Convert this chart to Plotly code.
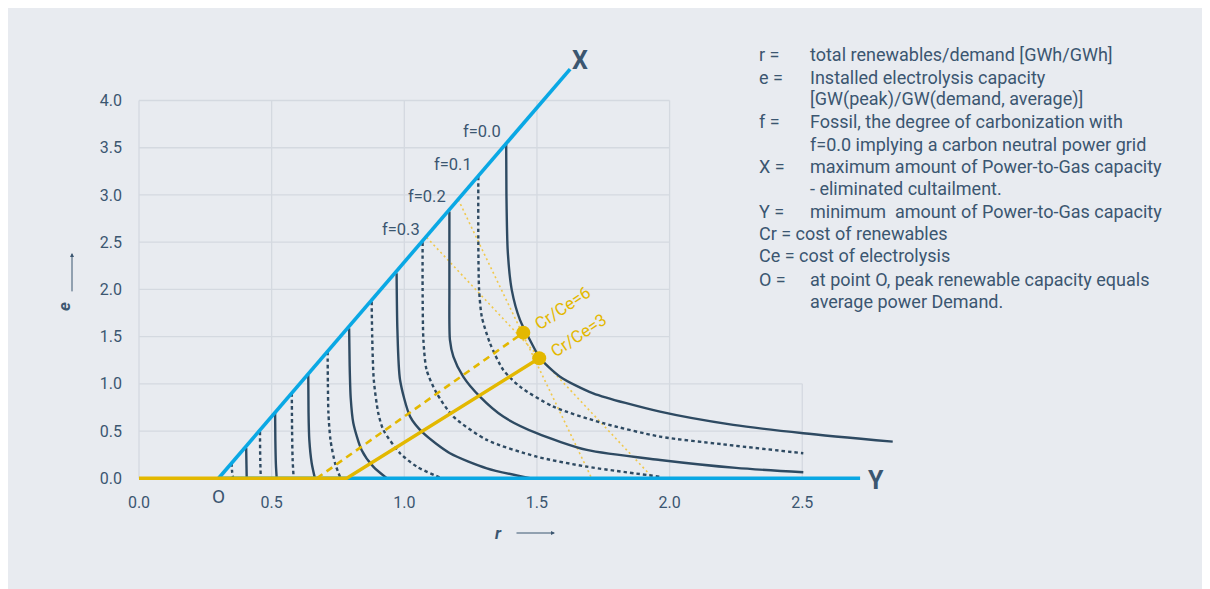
import plotly.graph_objects as go

# ---------------- data ----------------
x_tick_vals = [0.0, 0.5, 1.0, 1.5, 2.0, 2.5]
x_tick_text = ["0.0", "0.5", "1.0", "1.5", "2.0", "2.5"]
y_tick_vals = [0.0, 0.5, 1.0, 1.5, 2.0, 2.5, 3.0, 3.5, 4.0]
y_tick_text = ["0.0", "0.5", "1.0", "1.5", "2.0", "2.5", "3.0", "3.5", "4.0"]

# iso-fossil curves (f = 0.0 ... 1.3), r and e values
f00_r = [1.384, 1.385, 1.390, 1.405, 1.436, 1.480, 1.512, 1.587, 1.712, 1.964, 2.240, 2.504, 2.841]
f00_e = [3.540, 3.000, 2.400, 1.995, 1.677, 1.430, 1.271, 1.076, 0.900, 0.705, 0.565, 0.477, 0.388]
f01_r = [1.279, 1.279, 1.282, 1.292, 1.323, 1.373, 1.436, 1.562, 1.750, 1.964, 2.200, 2.504]
f01_e = [3.195, 2.500, 1.995, 1.712, 1.430, 1.147, 0.970, 0.758, 0.583, 0.441, 0.360, 0.265]
f02_r = [1.170, 1.170, 1.172, 1.185, 1.222, 1.285, 1.373, 1.499, 1.688, 1.964, 2.250, 2.504]
f02_e = [2.824, 2.000, 1.465, 1.288, 1.076, 0.864, 0.653, 0.477, 0.300, 0.194, 0.110, 0.064]
f03_r = [1.069, 1.069, 1.072, 1.084, 1.122, 1.185, 1.311, 1.499, 1.688, 1.964]
f03_e = [2.500, 2.000, 1.465, 1.147, 0.900, 0.653, 0.406, 0.229, 0.123, 0.017]
f04_r = [0.971, 0.974, 0.984, 1.022, 1.072, 1.172, 1.311, 1.474]
f04_e = [2.172, 1.571, 1.041, 0.653, 0.477, 0.265, 0.106, 0.000]
f05_r = [0.877, 0.879, 0.885, 0.902, 0.921, 0.984, 1.047, 1.141]
f05_e = [1.871, 1.500, 1.041, 0.689, 0.512, 0.265, 0.123, 0.000]
f06_r = [0.792, 0.794, 0.798, 0.808, 0.839, 0.883, 0.934]
f06_e = [1.589, 1.200, 0.850, 0.583, 0.300, 0.123, 0.000]
f07_r = [0.711, 0.712, 0.714, 0.722, 0.740, 0.760]
f07_e = [1.341, 1.000, 0.689, 0.400, 0.150, 0.000]
f08_r = [0.638, 0.639, 0.642, 0.651, 0.663]
f08_e = [1.094, 0.700, 0.406, 0.159, 0.000]
f09_r = [0.576, 0.577, 0.579, 0.583]
f09_e = [0.904, 0.500, 0.200, 0.000]
f10_r = [0.513, 0.514, 0.516, 0.519]
f10_e = [0.705, 0.400, 0.150, 0.000]
f11_r = [0.456, 0.457, 0.459]
f11_e = [0.494, 0.200, 0.000]
f12_r = [0.404, 0.405, 0.406]
f12_e = [0.321, 0.150, 0.000]
f13_r = [0.349, 0.351, 0.355]
f13_e = [0.162, 0.070, 0.000]

# boundary lines
x_line_r = [0.30, 1.625]
x_line_e = [0.00, 4.333]
y_line_r = [0.30, 2.718]
y_line_e = [0.00, 0.000]

# cost-ratio paths and optimum points
cr3_r = [0.0, 0.783, 1.5085]
cr3_e = [0.0, 0.000, 1.271]
cr6_r = [0.670, 1.4486]
cr6_e = [0.000, 1.542]
opt_r = [1.4486, 1.5085]
opt_e = [1.542, 1.271]

# thin cost lines
iso_a_r = [1.0845, 1.9385]
iso_a_e = [2.550, 0.000]
iso_b_r = [1.2035, 1.7063]
iso_b_e = [2.950, 0.000]

f_labels = ["f=0.0", "f=0.1", "f=0.2", "f=0.3"]
f_label_r = [1.292, 1.185, 1.084, 0.988]
f_label_e = [3.672, 3.319, 2.983, 2.630]

legend_lines = [
    ("r =", "total renewables/demand [GWh/GWh]"),
    ("e =", "Installed electrolysis capacity"),
    ("", "[GW(peak)/GW(demand, average)]"),
    ("f =", "Fossil, the degree of carbonization with"),
    ("", "f=0.0 implying a carbon neutral power grid"),
    ("X =", "maximum amount of Power-to-Gas capacity"),
    ("", "- eliminated cultailment."),
    ("Y =", "minimum  amount of Power-to-Gas capacity"),
    ("Cr = cost of renewables", ""),
    ("Ce = cost of electrolysis", ""),
    ("O =", "at point O, peak renewable capacity equals"),
    ("", "average power Demand."),
]

# ---------------- styling ----------------
OFF = 8                       # page body margin
W, H = 1194, 581
PX_PER_R = 265.3
PX_PER_E = 94.4
X0_PAGE = 139                 # page x of r = 0
E0_PAGE = 478.3               # page y of e = 0
ML, MR = 125, 20
y_min = -0.05
MB = H - (E0_PAGE - OFF + (-y_min) * PX_PER_E)
MT = 50.2
PW = W - ML - MR
PH = H - MT - MB
x_min = -((X0_PAGE - OFF) - ML) / PX_PER_R
x_max = x_min + PW / PX_PER_R
y_max = y_min + PH / PX_PER_E

def pxx(px):
    return (px - OFF - ML) / PW

def pxy(py):
    return (H - MB - (py - OFF)) / PH

NAVY = "#2E4A62"
BLUE = "#0AA8E4"
GOLD = "#E3B800"
LIGHT_GOLD = "#F0C84C"
TEXT = "#3B5670"
GRID = "#D4D9E0"
BG = "#E8EBF0"
FONT = "Roboto"

fig = go.Figure()

# thin cost lines
for rr, ee in [(iso_a_r, iso_a_e), (iso_b_r, iso_b_e)]:
    fig.add_trace(go.Scatter(x=rr, y=ee, mode="lines",
                             line=dict(color=LIGHT_GOLD, width=1.6, dash="2px,3px"),
                             hoverinfo="skip", showlegend=False))

curves = [
    (f00_r, f00_e, "solid"), (f01_r, f01_e, "dot"), (f02_r, f02_e, "solid"),
    (f03_r, f03_e, "dot"), (f04_r, f04_e, "solid"), (f05_r, f05_e, "dot"),
    (f06_r, f06_e, "solid"), (f07_r, f07_e, "dot"), (f08_r, f08_e, "solid"),
    (f09_r, f09_e, "dot"), (f10_r, f10_e, "solid"), (f11_r, f11_e, "dot"),
    (f12_r, f12_e, "solid"), (f13_r, f13_e, "dot"),
]
for rr, ee, style in curves:
    fig.add_trace(go.Scatter(
        x=rr, y=ee, mode="lines",
        line=dict(color=NAVY, width=2.4, shape="spline", smoothing=0.7,
                  dash="solid" if style == "solid" else "3.5px,3px"),
        hoverinfo="skip", showlegend=False))

# boundary lines
fig.add_trace(go.Scatter(x=y_line_r, y=y_line_e, mode="lines",
                         line=dict(color=BLUE, width=3.6), hoverinfo="skip", showlegend=False))
fig.add_trace(go.Scatter(x=x_line_r, y=x_line_e, mode="lines",
                         line=dict(color=BLUE, width=3.6), hoverinfo="skip", showlegend=False))

# cost-ratio paths
fig.add_trace(go.Scatter(x=cr6_r, y=cr6_e, mode="lines",
                         line=dict(color=GOLD, width=2.6, dash="7px,5px"),
                         hoverinfo="skip", showlegend=False))
fig.add_trace(go.Scatter(x=cr3_r, y=cr3_e, mode="lines",
                         line=dict(color=GOLD, width=3.4),
                         hoverinfo="skip", showlegend=False))
fig.add_trace(go.Scatter(x=opt_r, y=opt_e, mode="markers",
                         marker=dict(color=GOLD, size=14),
                         hoverinfo="skip", showlegend=False))

# grid as shapes (L-shaped grid as in the reference)
shapes = []
for xv in x_tick_vals:
    top = 1.0 if xv > 2.0 else 4.0
    shapes.append(dict(type="line", xref="x", yref="y", x0=xv, x1=xv, y0=0, y1=top,
                       line=dict(color=GRID, width=1.3), layer="below"))
for yv in y_tick_vals[1:]:
    right = 2.5 if yv <= 1.0 else 2.0
    shapes.append(dict(type="line", xref="x", yref="y", x0=0, x1=right, y0=yv, y1=yv,
                       line=dict(color=GRID, width=1.3), layer="below"))

annotations = []
for t, rr, ee in zip(f_labels, f_label_r, f_label_e):
    annotations.append(dict(x=rr, y=ee, xref="x", yref="y", text=t, showarrow=False,
                            xanchor="center", yanchor="middle",
                            font=dict(family=FONT, size=16.5, color=TEXT)))

annotations.append(dict(x=1.596, y=1.804, xref="x", yref="y", text="Cr/Ce=6", showarrow=False,
                        xanchor="center", yanchor="middle",
                        textangle=-34, font=dict(family=FONT, size=17, color=GOLD)))
annotations.append(dict(x=1.658, y=1.518, xref="x", yref="y", text="Cr/Ce=3", showarrow=False,
                        xanchor="center", yanchor="middle",
                        textangle=-34, font=dict(family=FONT, size=17, color=GOLD)))

def place(px, py, text, size, **kw):
    d = dict(x=pxx(px), y=pxy(py), xref="paper", yref="paper", text=text,
             showarrow=False, xanchor="center", yanchor="middle",
             font=dict(family=FONT, size=size, color=TEXT))
    d.update(kw)
    annotations.append(d)

place(580, 61, "<b>X</b>", 25)
place(876, 481, "<b>Y</b>", 25)
place(218, 497, "O", 19)

# axis titles with thin arrows
place(498, 533, "<b><i>r</i></b>", 17)
annotations.append(dict(x=pxx(555), y=pxy(533), xref="paper", yref="paper", text="",
                        ax=-40, ay=0, axref="pixel", ayref="pixel",
                        showarrow=True, arrowhead=2, arrowsize=0.8, arrowwidth=1,
                        arrowcolor=TEXT))
place(64, 307, "<b><i>e</i></b>", 17, textangle=-90)
annotations.append(dict(x=pxx(72), y=pxy(253), xref="paper", yref="paper", text="",
                        ax=0, ay=40, axref="pixel", ayref="pixel",
                        showarrow=True, arrowhead=2, arrowsize=0.8, arrowwidth=1,
                        arrowcolor=TEXT))

line_y = [55, 77.3, 99.3, 121.7, 144.3, 166.7, 189, 211.7, 234, 256, 279.3, 301.7]
for (lab, txt), yy in zip(legend_lines, line_y):
    if lab:
        place(757, yy, lab, 18, xanchor="left")
    if txt:
        place(808, yy, txt, 18, xanchor="left")

fig.update_layout(
    width=W, height=H, autosize=False,
    margin=dict(l=ML, r=MR, t=MT, b=MB, pad=0),
    paper_bgcolor=BG, plot_bgcolor=BG,
    shapes=shapes, annotations=annotations, showlegend=False,
    xaxis=dict(range=[x_min, x_max], tickvals=x_tick_vals, ticktext=x_tick_text,
               showgrid=False, zeroline=False, showline=False, ticks="",
               ticklabelstandoff=8,
               tickfont=dict(family=FONT, size=16, color=TEXT)),
    yaxis=dict(range=[y_min, y_max], tickvals=y_tick_vals, ticktext=y_tick_text,
               showgrid=False, zeroline=False, showline=False, ticks="",
               ticklabelstandoff=10,
               tickfont=dict(family=FONT, size=16, color=TEXT)),
)

fig.write_html("out.html")
